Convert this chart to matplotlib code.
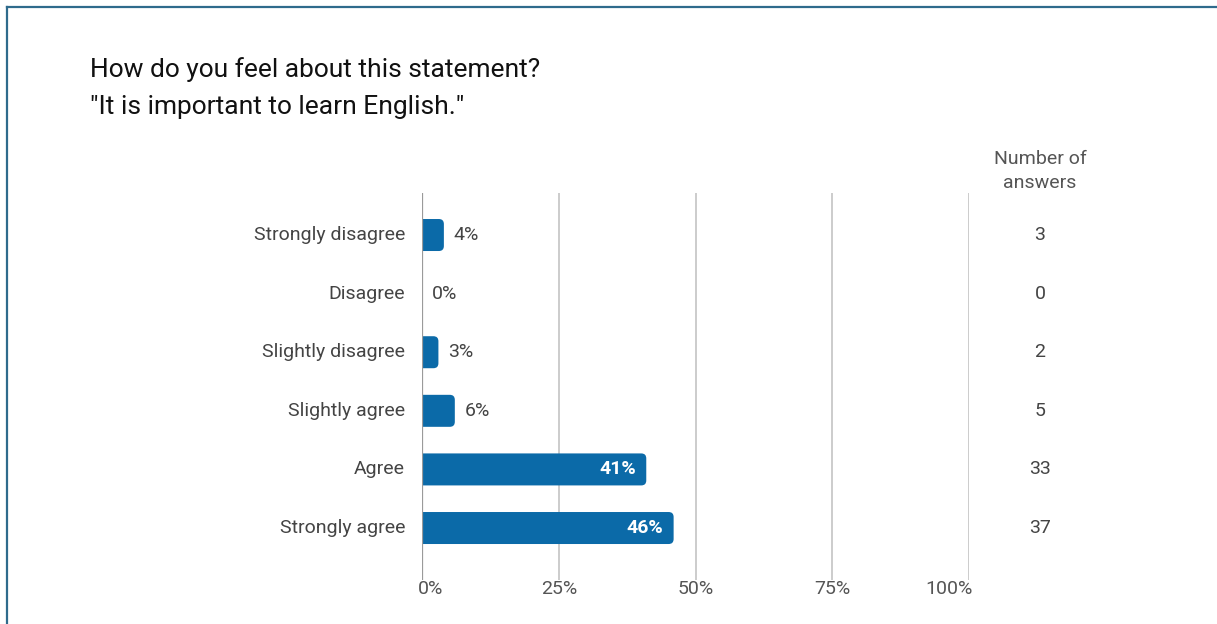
import matplotlib.pyplot as plt
from matplotlib.patches import FancyBboxPatch
from matplotlib.lines import Line2D

plt.rcParams['font.family'] = ['Roboto', 'DejaVu Sans']

# Antwoorden op de stelling
categories = ['Strongly disagree', 'Disagree', 'Slightly disagree',
              'Slightly agree', 'Agree', 'Strongly agree']
percentages = [4, 0, 3, 6, 41, 46]
answers = [3, 0, 2, 5, 33, 37]
xticks = [0, 25, 50, 75, 100]
xticklabels = ['0%', '25%', '50%', '75%', '100%']

W, H = 1217, 624
fig = plt.figure(figsize=(W / 100, H / 100), dpi=100)

ax_left, ax_right, ax_top, ax_bottom = 422, 969, 193, 580
ax = fig.add_axes([ax_left / W, 1 - ax_bottom / H,
                   (ax_right - ax_left) / W, (ax_bottom - ax_top) / H])

fs = 14
bar_color = '#0b6aa8'
ypos = list(range(len(categories)))
ax.set_xlim(0, 100)
ax.set_ylim(5.887, -0.717)

# Balken met afgeronde hoeken aan de rechterkant
px_x = (ax_right - ax_left) / 100.0
px_y = 58.6
r = 5 / px_x
aspect = px_x / px_y
bar_h = 32 / px_y
bars = ax.barh(ypos, percentages, height=bar_h, color='none')
for b, v in zip(bars, percentages):
    if v <= 0:
        continue
    p = FancyBboxPatch((-r, b.get_y()), v + r, b.get_height(),
                       boxstyle='round,pad=0,rounding_size=%f' % r,
                       mutation_aspect=aspect, facecolor=bar_color,
                       edgecolor='none', zorder=3)
    ax.add_patch(p)

# Percentages bij de balken
for y, v in zip(ypos, percentages):
    if v >= 20:
        ax.text(v - 10 / px_x, y, '%d%%' % v, ha='right', va='center',
                color='white', fontsize=fs, fontweight='bold', zorder=4)
    else:
        ax.text(v + 10 / px_x, y, '%d%%' % v, ha='left', va='center',
                color='#444444', fontsize=fs, zorder=4)

# Rasterlijnen
for xt in xticks[1:]:
    ax.axvline(xt, color='#c8c8c8', lw=1.3, zorder=1)
ax.axvline(0, color='#9a9a9a', lw=1.6, zorder=5)

for s in ax.spines.values():
    s.set_visible(False)
ax.set_xticks([])
ax.set_yticks([])

# Categorie-labels links
for y, c in zip(ypos, categories):
    ax.text(-17 / px_x, y, c, ha='right', va='center', color='#444444',
            fontsize=fs, clip_on=False)

# As-labels onder
for i, (xt, lab) in enumerate(zip(xticks, xticklabels)):
    ha = 'center'
    off = 0
    if i == 0:
        ha, off = 'left', -4
    elif i == len(xticks) - 1:
        ha, off = 'right', 4
    ax.text(xt + off / px_x, 5.887 + 9 / px_y, lab, ha=ha, va='center',
            color='#555555', fontsize=fs, clip_on=False)

# Aantal antwoorden rechts
cx = 1040 / W
for y, n in zip(ypos, answers):
    fy = 1 - (235 + px_y * y) / H
    fig.text(cx, fy, str(n), ha='center', va='center', color='#444444',
             fontsize=fs)
fig.text(cx, 1 - 159 / H, 'Number of', ha='center', va='center',
         color='#555555', fontsize=fs)
fig.text(cx, 1 - 183 / H, 'answers', ha='center', va='center',
         color='#555555', fontsize=fs)

# Titel
fig.text(90 / W, 1 - 70 / H, 'How do you feel about this statement?',
         ha='left', va='center', color='#111111', fontsize=19)
fig.text(90 / W, 1 - 107 / H, '"It is important to learn English."',
         ha='left', va='center', color='#111111', fontsize=19)

# Kader
frame = '#2f6b8c'
fig.add_artist(Line2D([7 / W, 7 / W], [0, 1 - 7 / H], color=frame, lw=1.6))
fig.add_artist(Line2D([7 / W, 1], [1 - 7 / H, 1 - 7 / H], color=frame, lw=1.6))

fig.savefig('out.png', dpi=100, facecolor='white')
